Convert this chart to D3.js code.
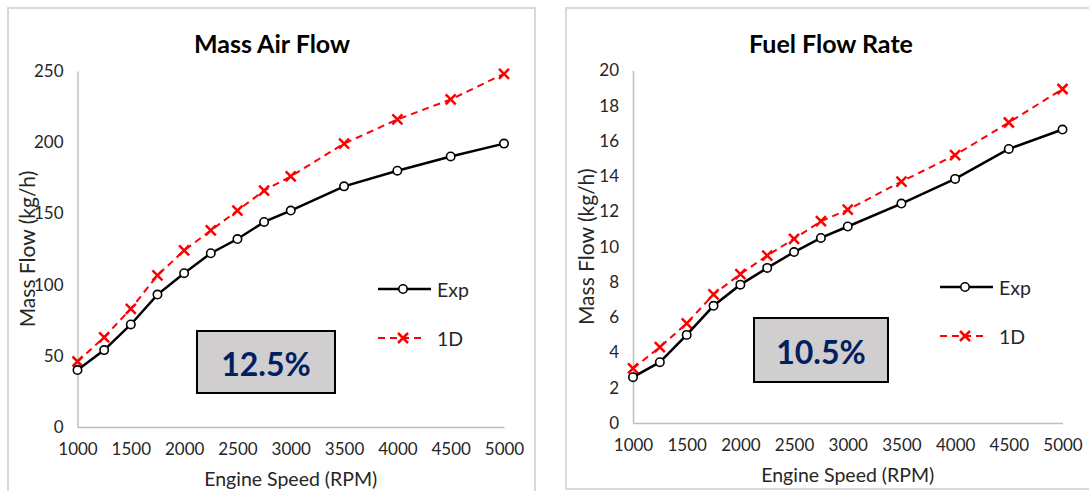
<!DOCTYPE html>
<html>
<head>
<meta charset="utf-8">
<script src="https://cdn.jsdelivr.net/npm/d3@7"></script>
<style>
  body { margin: 0; background: #fff; }
  svg { display: block; font-family: Lato, "Open Sans", sans-serif; }
</style>
</head>
<body>
<svg id="chart" width="1089" height="491"></svg>
<script>
// engine speeds shared by both charts
const rpm = [1000, 1250, 1500, 1750, 2000, 2250, 2500, 2750, 3000, 3500, 4000, 4500, 5000];
const xTicks = [1000, 1500, 2000, 2500, 3000, 3500, 4000, 4500, 5000];

// Mass Air Flow (kg/h)
const airExp = [40, 54, 72, 93, 108, 122, 132, 144, 152, 169, 180, 190, 199];
const air1D = [46, 63, 83, 106.5, 124, 138, 152, 166, 176, 199, 216, 230, 248];
const airTicks = [0, 50, 100, 150, 200, 250];

// Fuel Flow Rate (kg/h)
const fuelExp = [2.6, 3.45, 5.0, 6.65, 7.85, 8.8, 9.7, 10.5, 11.15, 12.45, 13.85, 15.55, 16.65];
const fuel1D = [3.1, 4.3, 5.65, 7.3, 8.45, 9.5, 10.45, 11.45, 12.1, 13.7, 15.2, 17.05, 18.95];
const fuelTicks = [0, 2, 4, 6, 8, 10, 12, 14, 16, 18, 20];

const seriesNames = ["Exp", "1D"];

const svg = d3.select("#chart");

const drawChart = (opt) => {
  const g = svg.append("g");

  // panel frame
  g.append("rect")
    .attr("x", opt.panel[0]).attr("y", opt.panel[1])
    .attr("width", opt.panel[2]).attr("height", opt.panel[3])
    .attr("fill", "#fff").attr("stroke", "#d9d9d9").attr("stroke-width", 2);

  const x = d3.scaleLinear().domain([1000, 5000]).range([opt.left, opt.right]);
  const y = d3.scaleLinear().domain([0, opt.yMax]).range([opt.bottom, opt.top]);

  // axes, excel style: gray lines, no tick marks
  const yAxis = g.append("g")
    .attr("transform", `translate(${opt.left},0)`)
    .call(d3.axisLeft(y).tickValues(opt.yTicks).tickSize(0).tickPadding(14).tickFormat(d3.format("d")));
  const xAxis = g.append("g")
    .attr("transform", `translate(0,${opt.bottom})`)
    .call(d3.axisBottom(x).tickValues(xTicks).tickSize(0).tickPadding(16).tickFormat(d3.format("d")));
  [xAxis, yAxis].forEach((a) => {
    a.select(".domain").attr("stroke", "#bfbfbf").attr("stroke-width", 1.5);
    a.selectAll("text").attr("font-size", 17).attr("fill", "#262626")
      .attr("font-family", "Lato, sans-serif");
  });

  // titles
  g.append("text")
    .attr("x", opt.titleX).attr("y", 43)
    .attr("text-anchor", "middle").attr("dominant-baseline", "central")
    .attr("font-size", 25).attr("font-weight", "bold").attr("fill", "#000")
    .text(opt.title);
  g.append("text")
    .attr("x", (opt.left + opt.right) / 2).attr("y", opt.xTitleY)
    .attr("text-anchor", "middle").attr("dominant-baseline", "central")
    .attr("font-size", 19.5).attr("fill", "#262626")
    .text("Engine Speed (RPM)");
  g.append("text")
    .attr("transform", `translate(${opt.yTitleX},${(opt.top + opt.bottom) / 2}) rotate(-90)`)
    .attr("text-anchor", "middle").attr("dominant-baseline", "central")
    .attr("font-size", 21).attr("fill", "#262626")
    .text("Mass Flow (kg/h)");

  const line = d3.line().x((d) => x(d[0])).y((d) => y(d[1]));
  const expPts = rpm.map((r, i) => [r, opt.exp[i]]);
  const simPts = rpm.map((r, i) => [r, opt.sim[i]]);

  // 1D (red dashed with x markers)
  g.append("path").datum(simPts)
    .attr("d", line).attr("fill", "none")
    .attr("stroke", "#ff0000").attr("stroke-width", 2)
    .attr("stroke-dasharray", "7,5");
  const cross = (sel, s) => {
    sel.append("path")
      .attr("d", `M${-s},${-s}L${s},${s}M${-s},${s}L${s},${-s}`)
      .attr("stroke", "#ff0000").attr("stroke-width", 2.5).attr("fill", "none");
  };
  g.selectAll(".xm").data(simPts).join("g")
    .attr("class", "xm")
    .attr("transform", (d) => `translate(${x(d[0])},${y(d[1])})`)
    .call(cross, 5);

  // Exp (black solid with open circles)
  g.append("path").datum(expPts)
    .attr("d", line).attr("fill", "none")
    .attr("stroke", "#000").attr("stroke-width", 2.5);
  g.selectAll(".cm").data(expPts).join("circle")
    .attr("class", "cm")
    .attr("cx", (d) => x(d[0])).attr("cy", (d) => y(d[1]))
    .attr("r", 4.2)
    .attr("fill", "#fff").attr("stroke", "#000").attr("stroke-width", 1.6);

  // legend
  const lg = g.append("g").attr("transform", `translate(${opt.legend[0]},${opt.legend[1]})`);
  lg.append("line").attr("x1", 0).attr("x2", 53).attr("y1", 0).attr("y2", 0)
    .attr("stroke", "#000").attr("stroke-width", 2.5);
  lg.append("circle").attr("cx", 25).attr("cy", 0).attr("r", 4.2)
    .attr("fill", "#fff").attr("stroke", "#000").attr("stroke-width", 1.6);
  lg.append("line").attr("x1", 0).attr("x2", 48).attr("y1", 49).attr("y2", 49)
    .attr("stroke", "#ff0000").attr("stroke-width", 2).attr("stroke-dasharray", "7,5");
  lg.append("g").attr("transform", "translate(25,49)").call(cross, 5);
  lg.selectAll(".lt").data(seriesNames).join("text")
    .attr("class", "lt")
    .attr("x", 59).attr("y", (d, i) => i * 49)
    .attr("dominant-baseline", "central")
    .attr("font-size", 19.5).attr("fill", "#262626")
    .text((d) => d);

  // error box
  const b = opt.box;
  g.append("rect")
    .attr("x", b[0]).attr("y", b[1]).attr("width", b[2]).attr("height", b[3])
    .attr("fill", "#d0cece").attr("stroke", "#000").attr("stroke-width", 2);
  g.append("text")
    .attr("x", b[0] + b[2] / 2).attr("y", b[1] + b[3] / 2 + 1)
    .attr("text-anchor", "middle").attr("dominant-baseline", "central")
    .attr("font-size", 32).attr("font-weight", "bold").attr("fill", "#002060")
    .text(opt.boxText);
};

drawChart({
  panel: [8, 8, 527, 500],
  left: 77.5, right: 504, top: 71, bottom: 427,
  yMax: 250, yTicks: airTicks,
  exp: airExp, sim: air1D,
  title: "Mass Air Flow", titleX: 272,
  xTitleY: 478, yTitleX: 26,
  legend: [378, 289],
  box: [197, 331, 138, 62], boxText: "12.5%"
});

drawChart({
  panel: [566, 8, 540, 481],
  left: 633, right: 1062.5, top: 70.5, bottom: 423,
  yMax: 20, yTicks: fuelTicks,
  exp: fuelExp, sim: fuel1D,
  title: "Fuel Flow Rate", titleX: 831,
  xTitleY: 474, yTitleX: 585,
  legend: [940, 287],
  box: [754, 318, 134, 64], boxText: "10.5%"
});
</script>
</body>
</html>
